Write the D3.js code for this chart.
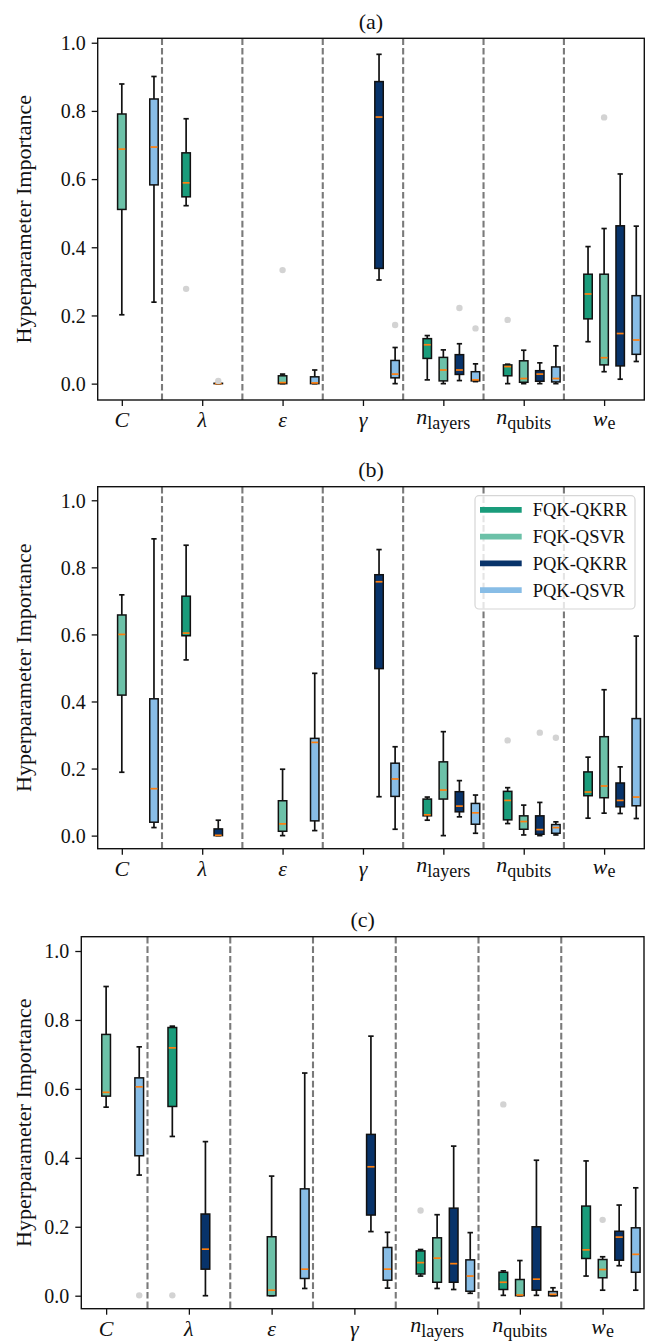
<!DOCTYPE html>
<html>
<head>
<meta charset="utf-8">
<script src="https://cdn.jsdelivr.net/npm/d3@7"></script>
<style>
  html, body { margin: 0; padding: 0; background: #fff; }
  svg { display: block; }
</style>
</head>
<body>
<svg id="chart" width="649" height="1341"></svg>
<script>
// Hyperparameter names (italic symbol + optional upright subscript)
const tickMain = ["C", "λ", "ε", "γ", "n", "n", "w"];
const tickSub = ["", "", "", "", "layers", "qubits", "e"];

// Model variants and their colours
const models = ["FQK-QKRR", "FQK-QSVR", "PQK-QKRR", "PQK-QSVR"];
const modelColors = ["#1a9c7b", "#6cc1a8", "#08336a", "#88bde6"];

// Y axis ticks
const yTicks = [0.0, 0.2, 0.4, 0.6, 0.8, 1.0];

// Box statistics: [hyperparameter, model, whiskerLow, q1, median, q3, whiskerHigh]
const statsA = [
  [0, 1, 0.202, 0.511, 0.688, 0.791, 0.879],
  [0, 3, 0.239, 0.583, 0.694, 0.835, 0.901],
  [1, 0, 0.522, 0.548, 0.589, 0.677, 0.777],
  [1, 2, 0.000, 0.000, 0.000, 0.001, 0.002],
  [2, 1, 0.000, 0.000, 0.003, 0.023, 0.028],
  [2, 3, 0.000, 0.000, 0.002, 0.020, 0.040],
  [3, 2, 0.304, 0.338, 0.782, 0.886, 0.966],
  [3, 3, 0.000, 0.017, 0.028, 0.068, 0.106],
  [4, 0, 0.011, 0.074, 0.114, 0.132, 0.141],
  [4, 1, 0.000, 0.008, 0.040, 0.077, 0.099],
  [4, 2, 0.009, 0.027, 0.040, 0.085, 0.117],
  [4, 3, 0.006, 0.008, 0.011, 0.035, 0.058],
  [5, 0, 0.000, 0.023, 0.050, 0.055, 0.057],
  [5, 1, 0.000, 0.004, 0.015, 0.067, 0.098],
  [5, 2, 0.000, 0.007, 0.028, 0.038, 0.061],
  [5, 3, 0.000, 0.005, 0.015, 0.049, 0.111],
  [6, 0, 0.123, 0.190, 0.263, 0.321, 0.402],
  [6, 1, 0.035, 0.055, 0.076, 0.321, 0.455],
  [6, 2, 0.013, 0.052, 0.147, 0.463, 0.615],
  [6, 3, 0.065, 0.086, 0.128, 0.258, 0.462]
];
// Outliers: [hyperparameter, model, value]
const outliersA = [
  [1, 0, 0.278], [1, 2, 0.008], [2, 1, 0.333], [3, 3, 0.172],
  [4, 2, 0.222], [4, 3, 0.162], [5, 0, 0.187], [6, 1, 0.781]
];

const statsB = [
  [0, 1, 0.189, 0.419, 0.600, 0.658, 0.718],
  [0, 3, 0.024, 0.040, 0.140, 0.408, 0.885],
  [1, 0, 0.524, 0.596, 0.604, 0.714, 0.866],
  [1, 2, 0.000, 0.000, 0.001, 0.020, 0.046],
  [2, 1, 0.000, 0.013, 0.035, 0.104, 0.198],
  [2, 3, 0.015, 0.044, 0.278, 0.290, 0.484],
  [3, 2, 0.116, 0.498, 0.757, 0.778, 0.853],
  [3, 3, 0.019, 0.117, 0.169, 0.216, 0.265],
  [4, 0, 0.046, 0.059, 0.062, 0.109, 0.115],
  [4, 1, 0.000, 0.109, 0.136, 0.220, 0.310],
  [4, 2, 0.056, 0.071, 0.088, 0.131, 0.164],
  [4, 3, 0.007, 0.034, 0.068, 0.096, 0.121],
  [5, 0, 0.036, 0.047, 0.105, 0.132, 0.143],
  [5, 1, 0.002, 0.019, 0.042, 0.059, 0.091],
  [5, 2, 0.000, 0.004, 0.018, 0.059, 0.099],
  [5, 3, 0.002, 0.007, 0.024, 0.033, 0.041],
  [6, 0, 0.052, 0.119, 0.130, 0.190, 0.234],
  [6, 1, 0.067, 0.113, 0.148, 0.295, 0.435],
  [6, 2, 0.066, 0.086, 0.105, 0.157, 0.205],
  [6, 3, 0.051, 0.089, 0.115, 0.349, 0.595]
];
const outliersB = [
  [5, 0, 0.284], [5, 2, 0.307], [5, 3, 0.292]
];

const statsC = [
  [0, 1, 0.547, 0.579, 0.590, 0.758, 0.897],
  [0, 3, 0.350, 0.406, 0.606, 0.632, 0.722],
  [1, 0, 0.462, 0.549, 0.719, 0.778, 0.782],
  [1, 2, 0.000, 0.077, 0.135, 0.237, 0.447],
  [2, 1, 0.000, 0.000, 0.016, 0.171, 0.347],
  [2, 3, 0.021, 0.050, 0.077, 0.310, 0.646],
  [3, 2, 0.186, 0.234, 0.374, 0.468, 0.753],
  [3, 3, 0.022, 0.045, 0.077, 0.140, 0.184],
  [4, 0, 0.057, 0.063, 0.096, 0.130, 0.134],
  [4, 1, 0.021, 0.039, 0.109, 0.168, 0.235],
  [4, 2, 0.018, 0.039, 0.093, 0.254, 0.434],
  [4, 3, 0.007, 0.013, 0.057, 0.104, 0.183],
  [5, 0, 0.001, 0.018, 0.039, 0.068, 0.072],
  [5, 1, 0.000, 0.000, 0.002, 0.047, 0.102],
  [5, 2, 0.001, 0.016, 0.048, 0.200, 0.393],
  [5, 3, 0.000, 0.000, 0.004, 0.012, 0.023],
  [6, 0, 0.057, 0.108, 0.133, 0.260, 0.391],
  [6, 1, 0.016, 0.052, 0.076, 0.105, 0.113],
  [6, 2, 0.087, 0.103, 0.170, 0.187, 0.263],
  [6, 3, 0.016, 0.068, 0.120, 0.197, 0.313]
];
const outliersC = [
  [0, 3, 0.001], [1, 0, 0.001], [4, 0, 0.247], [5, 0, 0.555], [6, 1, 0.220]
];

// ---- layout ----
const SERIF = "'Liberation Serif', 'Times New Roman', serif";
const modelOffset = [-0.2, 0, 0.2, 0.4];
const boxW = 0.105;   // in category units
const capW = 0.066;

const panels = [
  { title: "(a)", stats: statsA, outliers: outliersA, left: 97.7, right: 644.3, top: 38.3, bottom: 400, ylim: [-0.048, 1.013], legend: false },
  { title: "(b)", stats: statsB, outliers: outliersB, left: 97.7, right: 644.3, top: 486.7, bottom: 848.7, ylim: [-0.039, 1.0405], legend: true },
  { title: "(c)", stats: statsC, outliers: outliersC, left: 81.3, right: 644.0, top: 936.7, bottom: 1308.7, ylim: [-0.0377, 1.0415], legend: false }
];

const svg = d3.select("#chart");

panels.forEach(p => {
  const g = svg.append("g");
  const x = d3.scaleLinear().domain([-0.3, tickMain.length - 0.5]).range([p.left, p.right]);
  const y = d3.scaleLinear().domain(p.ylim).range([p.bottom, p.top]);
  const unit = x(1) - x(0);

  // dashed separators between hyperparameter groups
  g.append("g").selectAll("line")
    .data(d3.range(tickMain.length - 1).map(i => i + 0.5))
    .join("line")
    .attr("x1", d => x(d)).attr("x2", d => x(d))
    .attr("y1", p.top).attr("y2", p.bottom)
    .attr("stroke", "#7a7a7a").attr("stroke-width", 2.1)
    .attr("stroke-dasharray", "6.7,2.9");

  // boxes
  const boxes = g.append("g").selectAll("g.box")
    .data(p.stats)
    .join("g").attr("class", "box");

  const cx = d => x(d[0] + modelOffset[d[1]]);

  // whiskers
  boxes.append("line")
    .attr("x1", cx).attr("x2", cx)
    .attr("y1", d => y(d[5])).attr("y2", d => y(d[6]))
    .attr("stroke", "#111").attr("stroke-width", 1.7);
  boxes.append("line")
    .attr("x1", cx).attr("x2", cx)
    .attr("y1", d => y(d[3])).attr("y2", d => y(d[2]))
    .attr("stroke", "#111").attr("stroke-width", 1.7);
  // caps
  [2, 6].forEach(k => {
    boxes.append("line")
      .attr("x1", d => cx(d) - capW * unit / 2).attr("x2", d => cx(d) + capW * unit / 2)
      .attr("y1", d => y(d[k])).attr("y2", d => y(d[k]))
      .attr("stroke", "#111").attr("stroke-width", 1.7);
  });
  // IQR box
  boxes.append("rect")
    .attr("x", d => cx(d) - boxW * unit / 2)
    .attr("width", boxW * unit)
    .attr("y", d => y(d[5]))
    .attr("height", d => Math.max(0, y(d[3]) - y(d[5])))
    .attr("fill", d => modelColors[d[1]])
    .attr("stroke", "#111").attr("stroke-width", 1.5);
  // median
  boxes.append("line")
    .attr("x1", d => cx(d) - boxW * unit / 2 + 0.8).attr("x2", d => cx(d) + boxW * unit / 2 - 0.8)
    .attr("y1", d => y(d[4])).attr("y2", d => y(d[4]))
    .attr("stroke", "#ff7f0e").attr("stroke-width", 1.7);

  // outliers
  g.append("g").selectAll("circle")
    .data(p.outliers)
    .join("circle")
    .attr("cx", d => x(d[0] + modelOffset[d[1]]))
    .attr("cy", d => y(d[2]))
    .attr("r", 3.2)
    .attr("fill", "#d3d3d3");

  // frame
  g.append("rect")
    .attr("x", p.left).attr("y", p.top)
    .attr("width", p.right - p.left).attr("height", p.bottom - p.top)
    .attr("fill", "none").attr("stroke", "#111").attr("stroke-width", 1.4);

  // y axis
  const yAxis = d3.axisLeft(y).tickValues(yTicks).tickFormat(d3.format(".1f")).tickSize(6).tickPadding(6);
  const ya = g.append("g").attr("transform", `translate(${p.left},0)`).call(yAxis);
  ya.select(".domain").remove();
  ya.selectAll(".tick line").attr("stroke", "#111").attr("stroke-width", 1.3);
  ya.selectAll(".tick text")
    .attr("font-family", SERIF).attr("font-size", 20).attr("fill", "#111")
    .attr("dy", "0.34em");

  // x axis ticks
  const xAxis = d3.axisBottom(x).tickValues(d3.range(tickMain.length)).tickFormat("").tickSize(6);
  const xa = g.append("g").attr("transform", `translate(0,${p.bottom})`).call(xAxis);
  xa.select(".domain").remove();
  xa.selectAll(".tick line").attr("stroke", "#111").attr("stroke-width", 1.3);

  // x tick labels (math-style)
  tickMain.forEach((m, i) => {
    const sub = tickSub[i];
    let base = 27, subShift = 0;
    if (sub === "layers" || sub === "qubits") { base = 23.5; subShift = 5; }
    else if (sub) { base = 25.5; subShift = 3; }
    const t = g.append("text")
      .attr("x", x(i)).attr("y", p.bottom + base)
      .attr("text-anchor", "middle")
      .attr("font-family", SERIF).attr("fill", "#111");
    t.append("tspan").attr("font-style", "italic").attr("font-size", 22).text(m);
    if (sub) {
      t.append("tspan").attr("font-size", 18).attr("dy", subShift).text(sub);
    }
  });

  // y label
  g.append("text")
    .attr("transform", `translate(30.5,${(p.top + p.bottom) / 2}) rotate(-90)`)
    .attr("text-anchor", "middle")
    .attr("font-family", SERIF).attr("font-size", 22).attr("fill", "#111")
    .text("Hyperparameter Importance");

  // panel title
  g.append("text")
    .attr("x", (p.left + p.right) / 2).attr("y", p.top - 9.3)
    .attr("text-anchor", "middle")
    .attr("font-family", SERIF).attr("font-size", 22).attr("fill", "#111")
    .text(p.title);

  // legend
  if (p.legend) {
    const lg = g.append("g");
    const lx = 475, ly = 495.7, lw = 160, lh = 113.3;
    lg.append("rect")
      .attr("x", lx).attr("y", ly).attr("width", lw).attr("height", lh)
      .attr("rx", 4).attr("ry", 4)
      .attr("fill", "#fff").attr("fill-opacity", 0.8)
      .attr("stroke", "#d6d6d6").attr("stroke-width", 1.2);
    const rows = lg.selectAll("g.row").data(models).join("g").attr("class", "row")
      .attr("transform", (d, i) => `translate(0,${509.8 + i * 26.8})`);
    rows.append("line")
      .attr("x1", 480).attr("x2", 521.7).attr("y1", 0).attr("y2", 0)
      .attr("stroke", (d, i) => modelColors[i]).attr("stroke-width", 5.8);
    rows.append("text")
      .attr("x", 532.7).attr("y", 6.3)
      .attr("font-family", SERIF).attr("font-size", 18.5).attr("fill", "#111")
      .text(d => d);
  }
});
</script>
</body>
</html>
